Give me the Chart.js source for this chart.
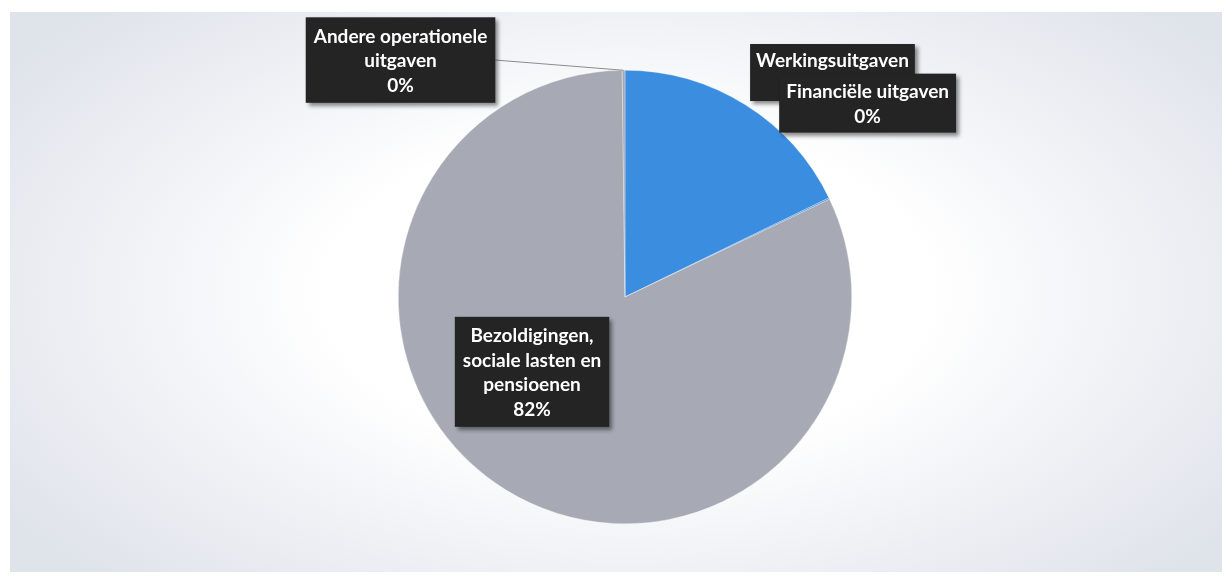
<!DOCTYPE html>
<html>
<head>
<meta charset="utf-8">
<script src="https://cdn.jsdelivr.net/npm/chart.js@4.4.1/dist/chart.umd.min.js"></script>
<style>
  html, body { margin: 0; padding: 0; background: #fff; }
  #wrap { position: relative; width: 1225px; height: 577px; }
  #panel {
    position: absolute; left: 10px; top: 12px; width: 1212px; height: 560px;
    background: radial-gradient(ellipse 62% 72% at 51% 50%, #ffffff 40%, #eceef3 75%, #dfe3ea 100%);
  }
  #chart { position: absolute; left: 0; top: 0; }
</style>
</head>
<body>
<div id="wrap">
  <div id="panel"></div>
  <canvas id="chart" width="1225" height="577"></canvas>
</div>
<script>
// uitgaven per categorie (in %)
const categories = ['Werkingsuitgaven', 'Financiële uitgaven', 'Bezoldigingen, sociale lasten en pensioenen', 'Andere operationele uitgaven'];
const values = [17.8, 0.1, 81.9, 0.2];
const sliceColors = ['#3b8de0', '#3b8de0', '#a7aab4', '#a7aab4'];

// label text lines per slice (percentage line is added from the value)
const labelLines = [
  ['Werkingsuitgaven'],
  ['Financiële uitgaven'],
  ['Bezoldigingen,', 'sociale lasten en', 'pensioenen'],
  ['Andere operationele', 'uitgaven']
];
// box centres, in units of the pie radius, measured from the pie centre
const labelAnchors = [
  { dx: 0.915, dy: -0.99, pad: 4 },
  { dx: 1.07, dy: -0.855, pad: 5 },
  { dx: -0.41, dy: 0.33, pad: 6 },
  { dx: -0.99, dy: -1.045, pad: 6, leader: true }
];

const total = values.reduce((a, b) => a + b, 0);

const boxLabels = {
  id: 'boxLabels',
  afterDatasetsDraw(chart) {
    const ctx = chart.ctx;
    const arcs = chart.getDatasetMeta(0).data;
    const lh = 24.5;
    ctx.save();
    ctx.font = 'bold 19px Lato';
    ctx.textAlign = 'center';
    ctx.textBaseline = 'middle';
    arcs.forEach((arc, i) => {
      const r = arc.outerRadius;
      const cx = arc.x + labelAnchors[i].dx * r;
      const cy = arc.y + labelAnchors[i].dy * r;
      const pct = Math.round(values[i] / total * 100) + '%';
      const lines = labelLines[i].concat([pct]);
      const pad = labelAnchors[i].pad;
      const w = Math.max(...lines.map(l => ctx.measureText(l).width)) + pad * 2 + 4;
      const h = lines.length * lh + pad * 2;
      const bx = cx - w / 2, by = cy - h / 2;

      if (labelAnchors[i].leader) {
        // thin line from the box to the outer edge of its slice
        const mid = (arc.startAngle + arc.endAngle) / 2;
        ctx.strokeStyle = '#8c8c8c';
        ctx.lineWidth = 1;
        ctx.beginPath();
        ctx.moveTo(bx + w, cy);
        ctx.lineTo(arc.x + Math.cos(mid) * r, arc.y + Math.sin(mid) * r);
        ctx.stroke();
      }

      ctx.shadowColor = 'rgba(0,0,0,0.45)';
      ctx.shadowBlur = 4;
      ctx.shadowOffsetX = 3;
      ctx.shadowOffsetY = 3;
      ctx.fillStyle = '#242424';
      ctx.fillRect(bx, by, w, h);
      ctx.shadowColor = 'transparent';

      ctx.fillStyle = '#ffffff';
      lines.forEach((l, k) => {
        ctx.fillText(l, cx, by + pad + lh * (k + 0.5) + 1);
      });
    });
    ctx.restore();
  }
};

new Chart(document.getElementById('chart'), {
  type: 'pie',
  data: {
    labels: categories,
    datasets: [{
      data: values,
      backgroundColor: sliceColors,
      borderColor: 'rgba(255,255,255,0.6)',
      borderWidth: 0.5
    }]
  },
  options: {
    responsive: false,
    animation: false,
    layout: { padding: { left: 198, right: 173, top: 70, bottom: 53 } },
    plugins: {
      legend: { display: false },
      tooltip: { enabled: false }
    }
  },
  plugins: [boxLabels]
});
</script>
</body>
</html>
